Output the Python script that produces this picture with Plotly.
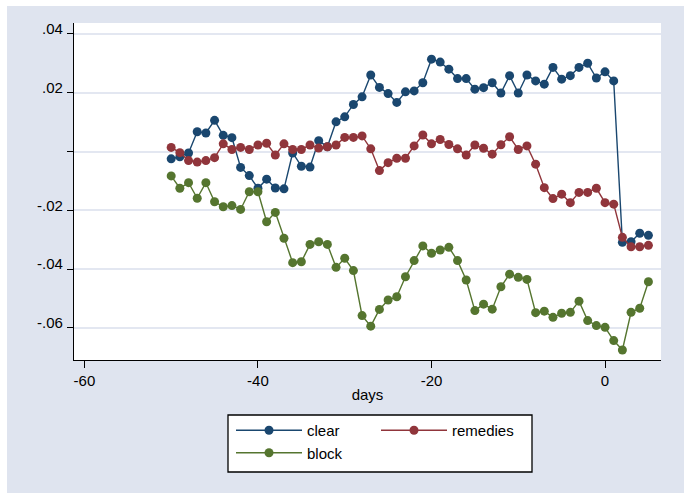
import plotly.graph_objects as go

days = list(range(-50, 6))

clear = [-0.0025, -0.0018, -0.0005, 0.0067, 0.0063, 0.0106, 0.0055, 0.0047, -0.0054, -0.0082,
         -0.0125, -0.0094, -0.0124, -0.0127, -0.0005, -0.0050, -0.0053, 0.0037, 0.0016, 0.0101,
         0.0118, 0.0160, 0.0186, 0.0260, 0.0218, 0.0197, 0.0167, 0.0203, 0.0206, 0.0234,
         0.0314, 0.0304, 0.0280, 0.0248, 0.0248, 0.0212, 0.0217, 0.0234, 0.0199, 0.0258,
         0.0199, 0.0260, 0.0240, 0.0229, 0.0286, 0.0246, 0.0258, 0.0286, 0.0300, 0.0250,
         0.0271, 0.0240, -0.0309, -0.0307, -0.0278, -0.0285]

remedies = [0.0014, -0.0004, -0.0031, -0.0036, -0.0031, -0.0021, 0.0026, 0.0007, 0.0014, 0.0007,
            0.0022, 0.0028, -0.0012, 0.0026, 0.0007, 0.0007, 0.0022, 0.0012, 0.0016, 0.0022,
            0.0048, 0.0048, 0.0053, 0.0009, -0.0065, -0.0038, -0.0023, -0.0023, 0.0019, 0.0056,
            0.0026, 0.0041, 0.0024, 0.0009, -0.0012, 0.0022, 0.0011, -0.0009, 0.0023, 0.0050,
            0.0007, 0.0019, -0.0043, -0.0123, -0.0160, -0.0145, -0.0174, -0.0139, -0.0139, -0.0125,
            -0.0174, -0.0179, -0.0292, -0.0324, -0.0324, -0.0319]

block = [-0.0083, -0.0125, -0.0106, -0.0159, -0.0106, -0.0171, -0.0188, -0.0184, -0.0197, -0.0137,
         -0.0137, -0.0239, -0.0207, -0.0295, -0.0378, -0.0375, -0.0316, -0.0307, -0.0316, -0.0394,
         -0.0363, -0.0405, -0.0558, -0.0594, -0.0537, -0.0505, -0.0494, -0.0426, -0.0371, -0.0321,
         -0.0346, -0.0335, -0.0326, -0.0371, -0.0437, -0.0541, -0.0519, -0.0536, -0.0460, -0.0417,
         -0.0428, -0.0435, -0.0548, -0.0543, -0.0564, -0.0550, -0.0547, -0.0509, -0.0575, -0.0592,
         -0.0598, -0.0643, -0.0675, -0.0547, -0.0533, -0.0443]

y_tickvals = [0.04, 0.02, 0, -0.02, -0.04, -0.06]
y_ticktext = [".04", ".02", "", "-.02", "-.04", "-.06"]
x_tickvals = [-60, -40, -20, 0]
x_ticktext = ["-60", "-40", "-20", "0"]

FONT = "Liberation Sans, Arial, sans-serif"
BG = "#dfe4ef"

fig = go.Figure()
series = [("clear", clear, "#1a476f", "legend"),
          ("remedies", remedies, "#90353b", "legend2"),
          ("block", block, "#55752f", "legend")]
for name, vals, col, lg in series:
    fig.add_trace(go.Scatter(x=days, y=vals, name=name, mode="lines+markers",
                             line=dict(color=col, width=1.4),
                             marker=dict(color=col, size=9),
                             legend=lg))

W, H = 684, 493
ml, mr, mt, mb = 74, 23, 23, 133
pw, ph = W - ml - mr, H - mt - mb

def px(xp):
    return (xp - ml) / pw

def py(yp):
    return (H - mb - yp) / ph

legend_common = dict(bgcolor="rgba(0,0,0,0)", borderwidth=0, orientation="v",
                     font=dict(family=FONT, size=15, color="#000"),
                     xanchor="left", yanchor="top", itemwidth=66,
                     tracegroupgap=0, itemclick=False)

fig.update_layout(
    width=W, height=H,
    margin=dict(l=ml, r=mr, t=mt, b=mb),
    paper_bgcolor=BG, plot_bgcolor="white",
    font=dict(family=FONT, size=15, color="#000"),
    showlegend=True,
    legend=dict(x=px(231), y=py(414), **legend_common),
    legend2=dict(x=px(376), y=py(414), **legend_common),
    xaxis=dict(range=[-61.2, 6.45], tickvals=x_tickvals, ticktext=x_ticktext,
               showgrid=False, zeroline=False, showline=True, linecolor="#000", linewidth=1.3,
               ticks="outside", ticklen=7, tickwidth=1.3, tickcolor="#000",
               ticklabelstandoff=0,
               title=dict(text="days", font=dict(family=FONT, size=15), standoff=1)),
    yaxis=dict(range=[-0.0709, 0.0437], tickvals=y_tickvals, ticktext=y_ticktext,
               showgrid=True, gridcolor="#e3e7f1", gridwidth=1.5, zeroline=False,
               showline=True, linecolor="#000", linewidth=1.3,
               ticks="outside", ticklen=6, tickwidth=1.3, tickcolor="#000",
               ticklabelshift=-5, ticklabelstandoff=1),
    shapes=[
        dict(type="rect", xref="paper", yref="paper", x0=px(228), x1=px(532), y0=py(472), y1=py(415),
             fillcolor="white", line=dict(color="#000", width=1.3), layer="below"),
        dict(type="rect", xref="paper", yref="paper", x0=px(0), x1=px(W), y0=py(6), y1=py(0),
             fillcolor="white", line=dict(width=0)),
        dict(type="rect", xref="paper", yref="paper", x0=px(0), x1=px(7), y0=py(H), y1=py(0),
             fillcolor="white", line=dict(width=0)),
    ],
)

fig.write_html("out.html", config={"displayModeBar": False},
               post_script="document.body.style.margin='0px';")
